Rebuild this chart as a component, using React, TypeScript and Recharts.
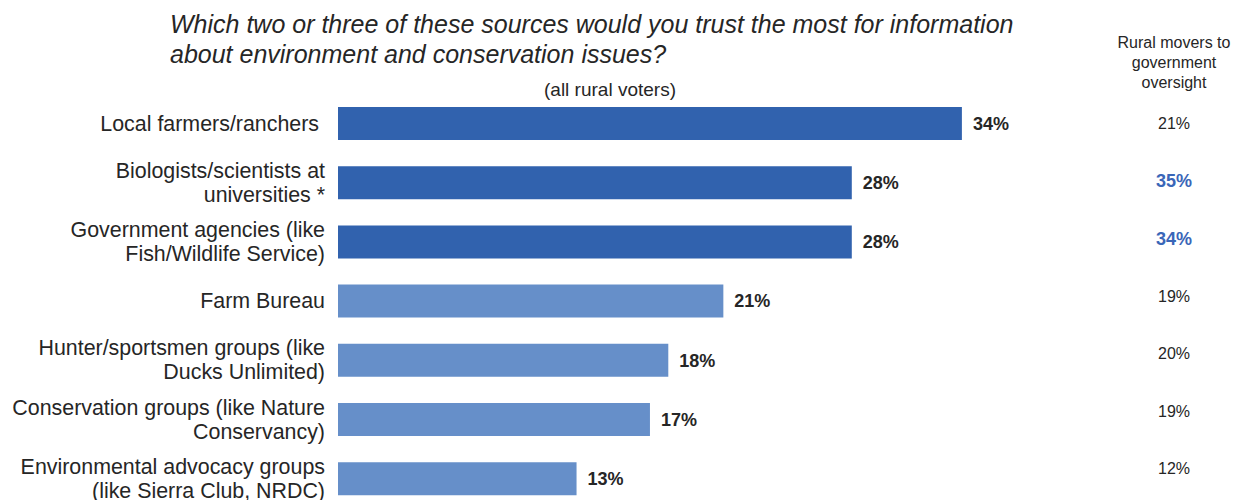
import React from "react";
import { BarChart, Bar, XAxis, YAxis, Cell, LabelList } from "recharts";

const categories = [
  "Local farmers/ranchers ",
  "Biologists/scientists at\nuniversities *",
  "Government agencies (like\nFish/Wildlife Service)",
  "Farm Bureau",
  "Hunter/sportsmen groups (like\nDucks Unlimited)",
  "Conservation groups (like Nature\nConservancy)",
  "Environmental advocacy groups\n(like Sierra Club, NRDC)",
];
const allRuralVoters = [34, 28, 28, 21, 18, 17, 13];
const ruralMovers = [21, 35, 34, 19, 20, 19, 12];
const moversHighlighted = [false, true, true, false, false, false, false];
const barTier = ["dark", "dark", "dark", "light", "light", "light", "light"];

const titleLines = [
  "Which two or three of these sources would you trust the most for information",
  "about environment and conservation issues?",
];
const subtitle = "(all rural voters)";
const moversHeader = ["Rural movers to", "government", "oversight"];

const FONT = "'Liberation Sans', Arial, sans-serif";
const TEXT = "#262626";
const DARK = "#3162ae";
const LIGHT = "#668fc9";
const HIGHLIGHT = "#3a66b8";
const RIGHT_COL_X = 1174;

const data = categories.map((name, i) => ({
  name,
  value: allRuralVoters[i],
  mover: ruralMovers[i],
  hi: moversHighlighted[i],
  tier: barTier[i],
}));

const LeftTick = (props: any) => {
  const { y, payload } = props;
  const lines = String(payload.value).split("\n");
  const lh = 24;
  const start = y - ((lines.length - 1) * lh) / 2;
  return (
    <text
      x={325}
      y={start}
      textAnchor="end"
      fontFamily={FONT}
      fontSize={21.4}
      fill={TEXT}
      style={{ whiteSpace: "pre" }}
    >
      {lines.map((l, i) => (
        <tspan key={i} x={325} y={start + i * lh} dominantBaseline="central">
          {l}
        </tspan>
      ))}
    </text>
  );
};

const RightTick = (props: any) => {
  const { y, index } = props;
  const d = data[index];
  if (!d) return null;
  return (
    <text
      x={RIGHT_COL_X}
      y={y}
      textAnchor="middle"
      dominantBaseline="central"
      fontFamily={FONT}
      fontSize={d.hi ? 18 : 16}
      fontWeight={d.hi ? "bold" : "normal"}
      fill={d.hi ? HIGHLIGHT : TEXT}
    >
      {d.mover}%
    </text>
  );
};

export default function App() {
  return (
    <div
      style={{
        position: "absolute",
        left: 0,
        top: 0,
        width: 1239,
        height: 520,
        fontFamily: FONT,
        background: "#fff",
      }}
    >
      <div
        style={{
          position: "absolute",
          left: 170,
          top: 9,
          fontSize: 25,
          fontStyle: "italic",
          lineHeight: "30px",
          color: TEXT,
          whiteSpace: "nowrap",
        }}
      >
        {titleLines.map((l, i) => (
          <div key={i}>{l}</div>
        ))}
      </div>
      <div
        style={{
          position: "absolute",
          left: 410,
          width: 400,
          top: 78,
          textAlign: "center",
          fontSize: 19,
          lineHeight: "24px",
          color: TEXT,
        }}
      >
        {subtitle}
      </div>
      <div
        style={{
          position: "absolute",
          left: RIGHT_COL_X - 80,
          width: 160,
          top: 33,
          textAlign: "center",
          fontSize: 16,
          lineHeight: "20px",
          color: TEXT,
        }}
      >
        {moversHeader.map((l, i) => (
          <div key={i}>{l}</div>
        ))}
      </div>
      <div style={{ position: "absolute", left: 0, top: 0 }}>
        <BarChart
          width={1239}
          height={520}
          data={data}
          layout="vertical"
          margin={{ top: 94, right: 0, bottom: 11.6, left: 0 }}
        >
          <XAxis type="number" domain={[0, 40]} hide />
          <YAxis
            yAxisId="left"
            type="category"
            dataKey="name"
            width={338}
            axisLine={false}
            tickLine={false}
            tick={<LeftTick />}
            interval={0}
          />
          <YAxis
            yAxisId="right"
            orientation="right"
            type="category"
            dataKey="name"
            width={167}
            axisLine={false}
            tickLine={false}
            tick={<RightTick />}
            interval={0}
            padding={{ top: 1, bottom: 11 }}
          />
          <Bar
            yAxisId="left"
            dataKey="value"
            barSize={33}
            isAnimationActive={false}
          >
            {data.map((d, i) => (
              <Cell key={i} fill={d.tier === "dark" ? DARK : LIGHT} />
            ))}
            <LabelList
              dataKey="value"
              position="right"
              offset={11}
              formatter={(v: any) => `${v}%`}
              style={{ fontWeight: "bold", fontSize: 18, fill: TEXT, fontFamily: FONT }}
            />
          </Bar>
        </BarChart>
      </div>
    </div>
  );
}
